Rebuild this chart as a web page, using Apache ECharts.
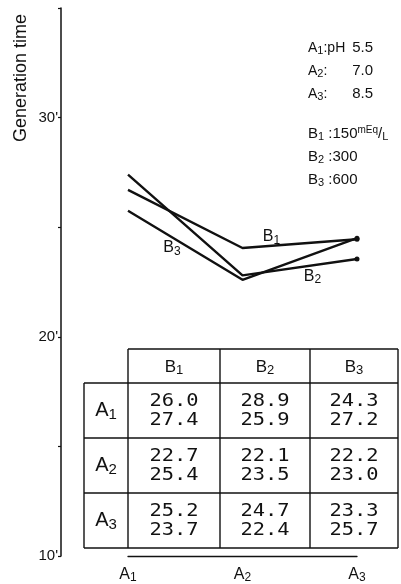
<!DOCTYPE html>
<html><head><meta charset="utf-8">
<script src="https://cdn.jsdelivr.net/npm/echarts@6/dist/echarts.min.js"></script>
<style>html,body{margin:0;padding:0;background:#fff}#c{width:401px;height:584px}</style>
</head><body><div id="c"></div>
<script>
// ---- data ----
const categories = ['A1', 'A2', 'A3'];
const seriesNames = ['B1', 'B2', 'B3'];
const b1Values = [26.7, 24.05, 24.45];
const b2Values = [27.4, 22.8, 23.55];
const b3Values = [25.75, 22.6, 24.5];
const yTickLabels = [10, 20, 30];
const tableHeaders = ['B1', 'B2', 'B3'];
const tableRowNames = ['A1', 'A2', 'A3'];
const tableA1 = [['26.0', '27.4'], ['28.9', '25.9'], ['24.3', '27.2']];
const tableA2 = [['22.7', '25.4'], ['22.1', '23.5'], ['22.2', '23.0']];
const tableA3 = [['25.2', '23.7'], ['24.7', '22.4'], ['23.3', '25.7']];
const legendA = [['A1', 'pH', '5.5'], ['A2', '', '7.0'], ['A3', '', '8.5']];
const legendB = [['B1', '150'], ['B2', '300'], ['B3', '600']];
const unitSup = 'mEq';
const unitSub = 'L';
const yAxisTitle = 'Generation time';

// ---- helpers ----
const F = '"Liberation Sans", Arial, sans-serif';
const MONO = '"DejaVu Sans Mono", "Liberation Mono", monospace';
const INK = '#111';
function sub(s) { return '{m|' + s[0] + '}{s|' + s.slice(1) + '}'; }
function richL(size) {
  return {
    m: { fontSize: size, fontFamily: F, color: INK, fill: INK },
    s: { fontSize: Math.round(size * 0.75), fontFamily: F, color: INK, fill: INK, padding: [Math.round(size * 0.42), 0, 0, 0] },
    u: { fontSize: Math.round(size * 0.68), fontFamily: F, color: INK, fill: INK, padding: [0, 0, Math.round(size * 0.5), 0] }
  };
}
const tableByRow = [tableA1, tableA2, tableA3];
const valuesBySeries = [b1Values, b2Values, b3Values];
const labelAt = [1, 1, 0];
const labelOffset = [[29, -11], [70, 1], [44, 37]];

const chart = echarts.init(document.getElementById('c'), null, { renderer: 'canvas' });

const series = seriesNames.map((name, si) => ({
  name: name,
  type: 'line',
  symbol: 'circle',
  showAllSymbol: true,
  itemStyle: { color: INK },
  lineStyle: { color: INK, width: 2.4 },
  animation: false,
  data: valuesBySeries[si].map((v, i) => {
    const item = { value: v, symbolSize: i === 2 ? 5 : 0 };
    if (i === labelAt[si]) {
      item.label = {
        show: true, position: 'inside', offset: labelOffset[si],
        formatter: sub(name), rich: richL(16)
      };
    }
    return item;
  })
}));

// ---- table graphic ----
const colX = [84, 128, 220, 310, 398];
const headTop = 349, rowTop = 383, rowH = 55;
const lineStyle = { stroke: INK, lineWidth: 1.4 };
const g = [];
function L(x1, y1, x2, y2) { g.push({ type: 'line', shape: { x1, y1, x2, y2 }, style: lineStyle, silent: true }); }
L(colX[1], headTop, colX[4], headTop);
for (let r = 0; r <= 3; r++) L(colX[0], rowTop + r * rowH, colX[4], rowTop + r * rowH);
L(colX[0], rowTop, colX[0], rowTop + 3 * rowH);
for (let c = 1; c <= 4; c++) L(colX[c], headTop, colX[c], rowTop + 3 * rowH);
tableHeaders.forEach((h, c) => {
  g.push({ type: 'text', x: (colX[c + 1] + colX[c + 2]) / 2, y: (headTop + rowTop) / 2 + 1,
    style: { text: sub(h), rich: richL(17), align: 'center', verticalAlign: 'middle', fill: INK } });
});
tableRowNames.forEach((n, r) => {
  g.push({ type: 'text', x: (colX[0] + colX[1]) / 2, y: rowTop + r * rowH + rowH / 2,
    style: { text: sub(n), rich: richL(20), align: 'center', verticalAlign: 'middle', fill: INK } });
  tableByRow[r].forEach((pair, c) => {
    g.push({ type: 'text', x: (colX[c + 1] + colX[c + 2]) / 2, y: rowTop + r * rowH + rowH / 2 + 1,
      scaleX: 1.2,
      style: { text: pair.join('\n'), font: '17px ' + MONO, lineHeight: 19, align: 'center', verticalAlign: 'middle', fill: INK } });
  });
});
// legend text
const legX = 308, legValRight = 373;
legendA.forEach((row, i) => {
  const y = 48 + i * 23;
  g.push({ type: 'text', x: legX, y: y, style: { text: sub(row[0]) + '{m|:' + (row[1] ? row[1] : '') + '}', rich: richL(14), align: 'left', verticalAlign: 'middle', fill: INK } });
  g.push({ type: 'text', x: legValRight, y: y, style: { text: row[2], font: '15px ' + F, align: 'right', verticalAlign: 'middle', fill: INK } });
});
legendB.forEach((row, i) => {
  const y = 134 + i * 23;
  let t = sub(row[0]) + '{m| :' + row[1] + '}';
  if (i === 0) t += '{u|' + unitSup + '}{m|/}{s|' + unitSub + '}';
  g.push({ type: 'text', x: legX, y: y, style: { text: t, rich: richL(15), align: 'left', verticalAlign: 'middle', fill: INK } });
});
g.push({ type: 'text', x: 21, y: 78, rotation: Math.PI / 2,
  style: { text: yAxisTitle, font: '18px ' + F, align: 'center', verticalAlign: 'middle', fill: INK } });

chart.setOption({
  animation: false,
  backgroundColor: '#fff',
  grid: { left: 128, right: 44, top: 8, bottom: 26 },
  xAxis: {
    type: 'category', data: categories, boundaryGap: false,
    axisLine: { lineStyle: { color: INK, width: 1.3 } },
    axisTick: { show: false },
    axisLabel: { margin: 9, formatter: v => sub(v), rich: richL(16) },
    splitLine: { show: false }
  },
  yAxis: {
    type: 'value', min: 10, max: 35, interval: 5, offset: 67,
    axisLine: { show: true, lineStyle: { color: INK, width: 1.5 } },
    axisTick: { show: true, length: 3, lineStyle: { color: INK, width: 1.2 } },
    axisLabel: { margin: 3, color: INK, fontSize: 15, fontFamily: F,
      formatter: v => yTickLabels.includes(v) ? v + "'" : '' },
    splitLine: { show: false }
  },
  series: series,
  graphic: g
});
</script>
</body></html>
